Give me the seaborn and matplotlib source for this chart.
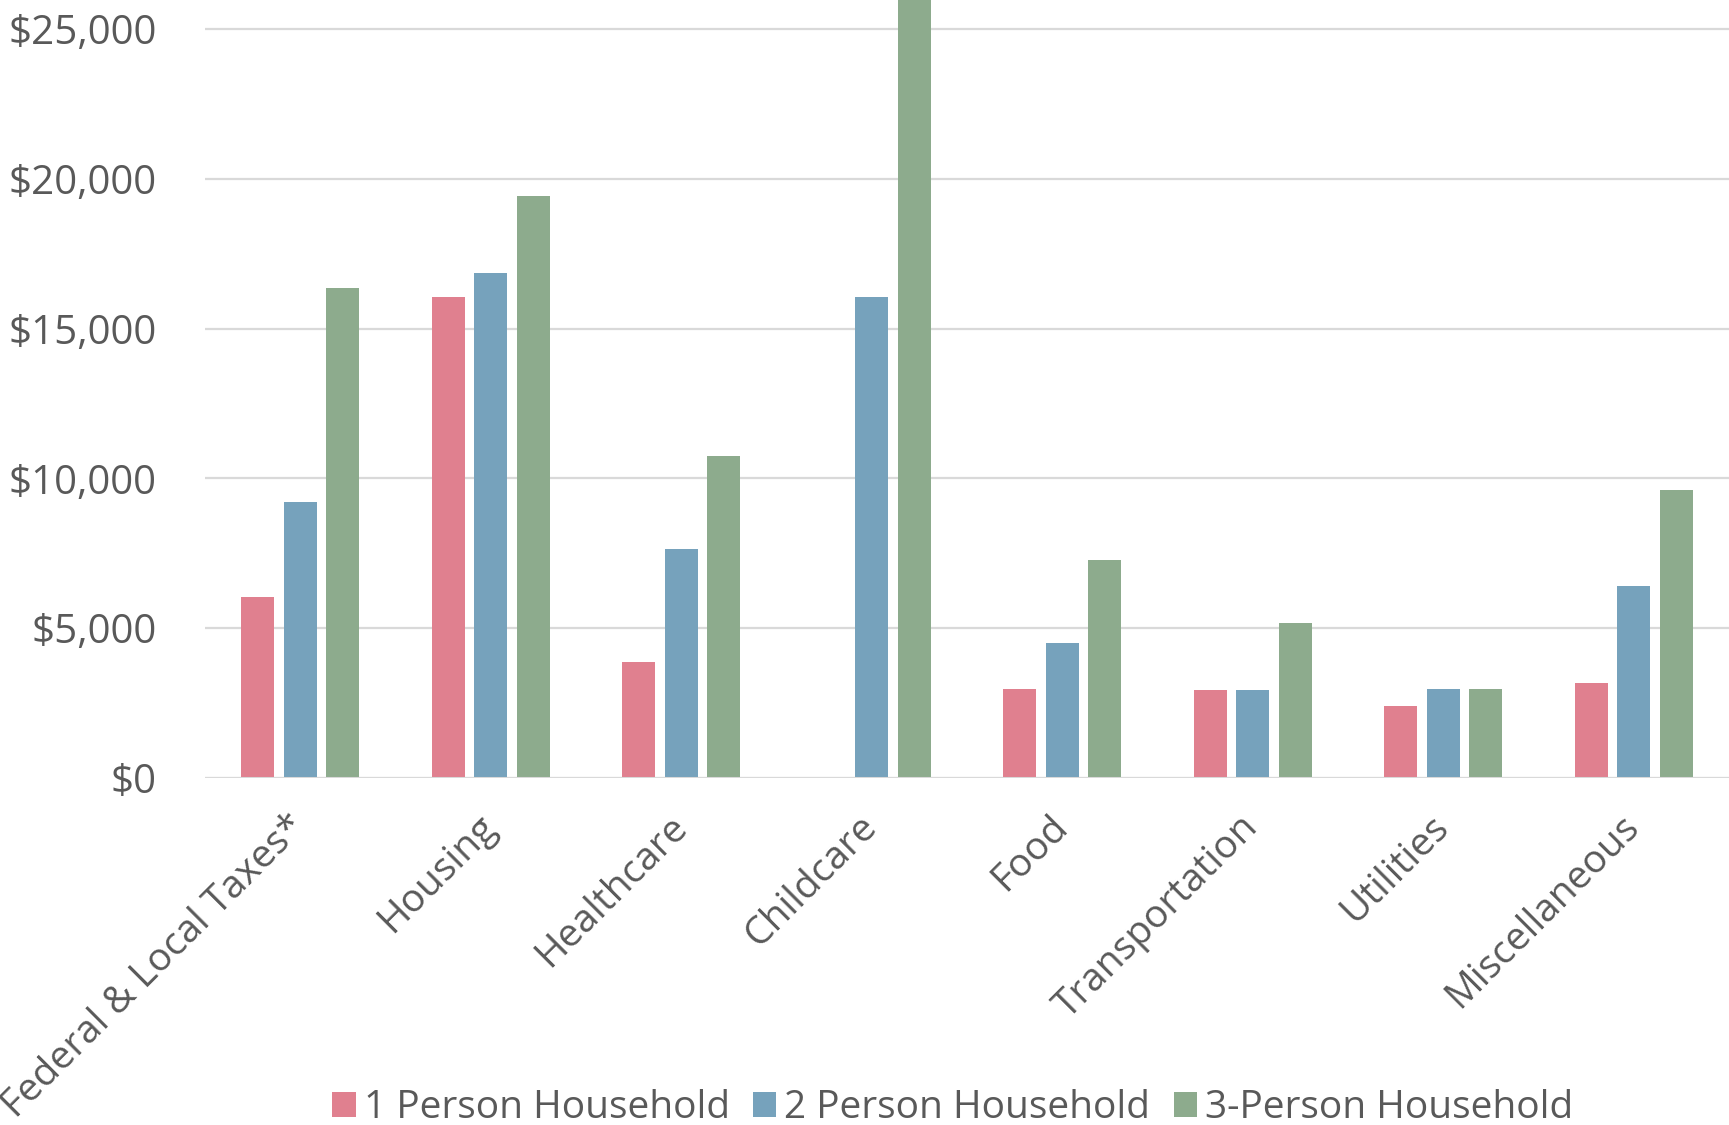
import matplotlib as mp
import matplotlib.pyplot as plt
import pandas as pd
import seaborn as sns

categories = ["Federal & Local Taxes*", "Housing", "Healthcare", "Childcare",
              "Food", "Transportation", "Utilities", "Miscellaneous"]
series = ["1 Person Household", "2 Person Household", "3-Person Household"]
one_person = [6040, 16050, 3870, 0, 2980, 2950, 2390, 3170]
two_person = [9200, 16860, 7660, 16050, 4490, 2950, 2980, 6410]
three_person = [16350, 19440, 10750, 27500, 7290, 5190, 2980, 9610]
y_ticks = [0, 5000, 10000, 15000, 20000, 25000]
y_labels = ["$0", "$5,000", "$10,000", "$15,000", "$20,000", "$25,000"]

rows = []
for name, vals in zip(series, [one_person, two_person, three_person]):
    for cat, v in zip(categories, vals):
        rows.append({"category": cat, "household": name, "cost": v})
df = pd.DataFrame(rows)

sns.set_style("white")
mp.rcParams["font.family"] = ["Open Sans", "DejaVu Sans"]
grey = "#595959"

fig = plt.figure(figsize=(17.29, 11.25), dpi=100)
ax = fig.add_axes([205 / 1729, 1 - 778 / 1125, 1 - 205 / 1729, 778 / 1125])

pal = {series[0]: "#E0808F", series[1]: "#76A2BC", series[2]: "#8DAB8D"}
sns.barplot(data=df, x="category", y="cost", hue="household", order=categories,
            hue_order=series, palette=pal, width=0.67, gap=0.22, ax=ax,
            saturation=1, edgecolor="none", linewidth=0, zorder=3)

ax.set_ylim(0, 25970)
ax.set_xlim(-0.5, 7.5)
ax.set_yticks(y_ticks)
ax.set_yticklabels(y_labels)
ax.yaxis.grid(True, color="#D9D9D9", linewidth=1.6, zorder=0)
for s in ax.spines.values():
    s.set_visible(False)
ax.axhline(0, color="#D9D9D9", linewidth=2.2, zorder=4)
ax.set_xlabel("")
ax.set_ylabel("")
ax.tick_params(axis="y", length=0, pad=35, labelsize=29, labelcolor=grey)
ax.tick_params(axis="x", length=0, pad=31, labelsize=28, labelcolor=grey)
for lab in ax.get_xticklabels():
    lab.set_rotation(45)
    lab.set_ha("right")
    lab.set_va("center")
    lab.set_rotation_mode("anchor")

ax.get_legend().remove()
handles, labels = ax.get_legend_handles_labels()
fig.legend(handles[:3], labels[:3], loc="center", bbox_to_anchor=(0.551, 0.015),
           ncol=3, frameon=False, fontsize=28, labelcolor=grey,
           handlelength=0.6, handleheight=0.6, handletextpad=0.2,
           columnspacing=0.6)

fig.savefig("out.png", dpi=100)
